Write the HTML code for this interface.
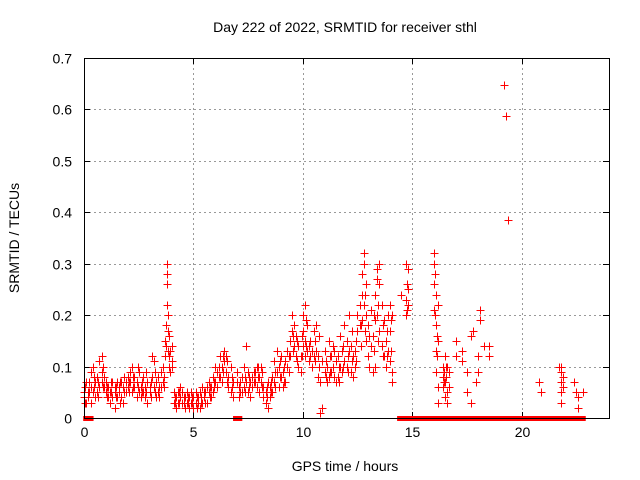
<!DOCTYPE html>
<html><head><meta charset="utf-8"><style>
body{margin:0;background:#fff;}
svg{display:block;font-family:"Liberation Sans",sans-serif;}
</style></head><body>
<svg id="chart" width="640" height="480">
<rect width="640" height="480" fill="#fff"/>
<text x="345" y="32" text-anchor="middle" font-size="14" fill="#000">Day 222 of 2022, SRMTID for receiver sthl</text>
<text x="345" y="471" text-anchor="middle" font-size="14" fill="#000">GPS time / hours</text>
<text transform="translate(19,238) rotate(-90)" text-anchor="middle" font-size="14" fill="#000">SRMTID / TECUs</text>
<g id="grid"></g><g id="ticks"></g><g id="marks"></g>
<rect x="84.5" y="58.5" width="525" height="360" fill="none" stroke="#000" stroke-width="1"/>
</svg>
<script>
const xTicks=[0,5,10,15,20];
const yTicks=[0,0.1,0.2,0.3,0.4,0.5,0.6,0.7];
const yTickLabels=["0","0.1","0.2","0.3","0.4","0.5","0.6","0.7"];
const groups=[
[0.0,[0.04,0.05]],[0.1,[0.03,0.07]],[0.2,[0.05,0.04]],[0.3,[0.06,0.09,0.03]],[0.4,[0.05,0.1]],[0.5,[0.04,0.07]],[0.6,[0.05,0.08]],[0.7,[0.06,0.11]],[0.8,[0.12,0.09,0.07]],[0.9,[0.08,0.06]],[1.0,[0.05,0.07]],
[1.1,[0.04,0.06]],[1.2,[0.03,0.05]],[1.3,[0.07,0.04]],[1.4,[0.05,0.06,0.02]],[1.5,[0.04,0.07]],[1.6,[0.06,0.05]],[1.7,[0.07,0.04]],[1.8,[0.06,0.03]],[1.9,[0.05,0.07]],[2.0,[0.08,0.06]],
[2.1,[0.09,0.07]],[2.2,[0.1,0.05]],[2.3,[0.06,0.08]],[2.4,[0.07,0.04]],[2.5,[0.05,0.09]],[2.6,[0.06,0.04]],[2.7,[0.08,0.05]],[2.8,[0.06,0.04]],[2.9,[0.07,0.03]],[3.0,[0.06,0.05]],
[3.1,[0.12,0.08]],[3.2,[0.11,0.06]],[3.3,[0.07,0.04]],[3.4,[0.08,0.05]],[3.5,[0.06,0.09]],[3.6,[0.1,0.07]],[3.7,[0.15,0.12]],[3.8,[0.22,0.26,0.3,0.28]],[3.85,[0.17,0.13,0.2]],[3.9,[0.16,0.12,0.1]],[4.0,[0.14,0.1,0.11]],
[4.1,[0.05,0.03]],[4.2,[0.04,0.02]],[4.3,[0.05,0.03]],[4.4,[0.04,0.06]],[4.5,[0.03,0.05]],[4.6,[0.04,0.02]],[4.7,[0.05,0.03]],[4.8,[0.04,0.02]],[4.9,[0.03,0.05]],[5.0,[0.02,0.04]],
[5.1,[0.03,0.05]],[5.2,[0.04,0.03]],[5.3,[0.05,0.02]],[5.4,[0.03,0.06]],[5.5,[0.05,0.04]],[5.6,[0.06,0.03]],[5.7,[0.07,0.05]],[5.8,[0.06,0.04]],[5.9,[0.08,0.05]],[6.0,[0.07,0.1]],
[6.1,[0.09,0.06]],[6.2,[0.12,0.08]],[6.3,[0.1,0.07]],[6.4,[0.13,0.11]],[6.5,[0.09,0.12]],[6.6,[0.08,0.06]],[6.7,[0.1,0.05]],[6.8,[0.07,0.04]],
[7.0,[0.07,0.09]],[7.1,[0.06,0.04]],[7.2,[0.08,0.05]],[7.3,[0.1,0.06]],[7.4,[0.14,0.07]],[7.5,[0.09,0.05]],[7.6,[0.07,0.04]],[7.7,[0.08,0.06]],[7.8,[0.09,0.07]],[7.9,[0.1,0.06]],[8.0,[0.08,0.05]],
[8.1,[0.1,0.07]],[8.2,[0.06,0.04]],[8.3,[0.05,0.03]],[8.4,[0.07,0.02]],[8.5,[0.06,0.04]],[8.6,[0.08,0.05]],[8.7,[0.11,0.07]],[8.8,[0.13,0.09]],[8.9,[0.1,0.06]],[9.0,[0.12,0.08]],
[9.1,[0.09,0.06]],[9.2,[0.11,0.07]],[9.3,[0.1,0.13]],[9.4,[0.15,0.12]],[9.5,[0.2,0.17]],[9.6,[0.18,0.14]],[9.7,[0.16,0.12]],[9.8,[0.14,0.1]],[9.9,[0.12,0.09]],[10.0,[0.2,0.17,0.14]],
[10.1,[0.22,0.15,0.12]],[10.2,[0.18,0.13]],[10.3,[0.14,0.11]],[10.4,[0.13,0.1]],[10.5,[0.17,0.12]],[10.6,[0.18,0.13]],[10.7,[0.12,0.08]],[10.8,[0.07,0.01]],[10.9,[0.11,0.02]],[11.0,[0.13,0.09]],
[11.1,[0.1,0.07]],[11.2,[0.15,0.08]],[11.3,[0.12,0.09]],[11.4,[0.14,0.1]],[11.5,[0.11,0.07]],[11.6,[0.12,0.08]],[11.7,[0.16,0.1]],[11.8,[0.13,0.09]],[11.9,[0.18,0.11]],[12.0,[0.15,0.1]],
[12.1,[0.2,0.13]],[12.2,[0.14,0.09]],[12.3,[0.12,0.08]],[12.4,[0.13,0.1]],[12.5,[0.2,0.17]],[12.6,[0.22,0.18]],[12.7,[0.28,0.24,0.19]],[12.8,[0.32,0.3,0.22]],[12.9,[0.26,0.2,0.15]],[13.0,[0.18,0.12]],
[13.1,[0.21,0.14]],[13.2,[0.16,0.09]],[13.3,[0.24,0.19,0.1]],[13.4,[0.29,0.27,0.2]],[13.5,[0.3,0.26,0.17]],[13.6,[0.22,0.14]],[13.7,[0.19,0.12]],[13.8,[0.15,0.1]],[13.9,[0.2,0.13]],[14.0,[0.22,0.17,0.11]],
[14.1,[0.2,0.09,0.07]],[14.5,[0.24]],[14.7,[0.3,0.23,0.2]],[14.8,[0.29,0.25,0.22]],[16.0,[0.32,0.3,0.26,0.21]],[16.1,[0.24,0.18,0.13,0.09]],[16.2,[0.22,0.15,0.06,0.03]],
[16.4,[0.1,0.08,0.06]],[16.5,[0.12,0.07,0.04]],[16.6,[0.1,0.05,0.03]],[16.7,[0.09,0.06]],[17.0,[0.15,0.12]],[17.3,[0.13,0.11]],[17.5,[0.09,0.05]],[17.7,[0.16,0.03]],[17.8,[0.17]],[17.9,[0.07]],
[18.0,[0.12,0.09]],[18.1,[0.21,0.19]],[18.3,[0.14]],[18.5,[0.14,0.12]],[19.2,[0.648]],[19.3,[0.588]],[19.4,[0.385]],[20.8,[0.07]],[20.9,[0.05]],
[21.7,[0.1]],[21.8,[0.1,0.09,0.07,0.05,0.03]],[21.9,[0.06,0.08]],[22.4,[0.07]],[22.5,[0.05]],[22.6,[0.04,0.02]],[22.8,[0.05]]
];
const groups2=[
[0.05,[0.06,0.03]],[0.25,[0.07,0.05]],[0.45,[0.06,0.08]],[0.65,[0.07,0.04]],[0.85,[0.1,0.06]],[1.05,[0.06,0.04]],[1.25,[0.05,0.07]],[1.45,[0.04,0.06]],[1.65,[0.07,0.03]],[1.85,[0.05,0.08]],
[2.05,[0.07,0.05]],[2.25,[0.08,0.06]],[2.45,[0.1,0.06]],[2.65,[0.07,0.05]],[2.85,[0.09,0.05]],[3.05,[0.07,0.04]],[3.25,[0.09,0.05]],[3.45,[0.06,0.04]],[3.65,[0.08,0.06]],[3.75,[0.18,0.14]],[3.95,[0.13,0.09]],
[4.15,[0.04,0.03]],[4.35,[0.03,0.05]],[4.55,[0.04,0.03]],[4.75,[0.03,0.04]],[4.95,[0.04,0.03]],[5.15,[0.04,0.02]],[5.35,[0.04,0.03]],[5.55,[0.05,0.03]],[5.75,[0.04,0.06]],[5.95,[0.06,0.07]],
[6.15,[0.08,0.1]],[6.35,[0.12,0.09]],[6.55,[0.11,0.07]],[6.75,[0.08,0.06]],[7.15,[0.07,0.05]],[7.35,[0.08,0.05]],[7.55,[0.08,0.06]],[7.75,[0.07,0.09]],[7.95,[0.08,0.1]],[8.15,[0.09,0.06]],
[8.35,[0.06,0.04]],[8.55,[0.05,0.07]],[8.75,[0.09,0.06]],[8.95,[0.11,0.08]],[9.15,[0.1,0.07]],[9.35,[0.12,0.09]],[9.55,[0.16,0.13]],[9.75,[0.15,0.11]],[9.95,[0.16,0.12]],[10.15,[0.19,0.14]],
[10.35,[0.15,0.12]],[10.55,[0.15,0.11]],[10.75,[0.16,0.1]],[11.05,[0.11,0.08]],[11.25,[0.12,0.09]],[11.45,[0.13,0.08]],[11.65,[0.1,0.07]],[11.85,[0.14,0.1]],[12.05,[0.12,0.09]],[12.25,[0.17,0.11]],
[12.45,[0.15,0.11]],[12.65,[0.18,0.14]],[12.85,[0.24,0.17]],[13.05,[0.16,0.1]],[13.25,[0.2,0.13]],[13.45,[0.22,0.15]],[13.65,[0.18,0.12]],[13.85,[0.17,0.12]],[14.05,[0.19,0.13]],[14.75,[0.26,0.21]],
[16.05,[0.28,0.2]],[16.15,[0.16,0.12]],[16.45,[0.09,0.07]],[16.55,[0.1,0.08]]
];
const zeroRuns=[[0.1,0.3],[6.95,7.1],[14.45,15.0],[15.1,16.1],[16.2,16.8],[16.9,21.8],[21.9,22.8]];
const X=t=>84+t*525/24, Y=v=>418-v*360/0.7;
const ns="http://www.w3.org/2000/svg";
const grid=document.getElementById('grid'),ticks=document.getElementById('ticks'),marks=document.getElementById('marks');
function mk(tag,attrs,parent){const e=document.createElementNS(ns,tag);for(const k in attrs)e.setAttribute(k,attrs[k]);parent.appendChild(e);return e;}
xTicks.forEach(t=>{const x=Math.round(X(t))+0.5;
 if(t>0){const g=mk('line',{x1:x,x2:x,y1:58,y2:418,stroke:'#999','stroke-dasharray':'2,3'},grid);
 
 }
 mk('line',{x1:x,x2:x,y1:418,y2:412,stroke:'#000'},ticks);mk('line',{x1:x,x2:x,y1:58,y2:64,stroke:'#000'},ticks);
 const l=mk('text',{x:x,y:437,'text-anchor':'middle','font-size':14},ticks);l.textContent=t;
 
 });
yTicks.forEach((v,i)=>{const y=Math.round(Y(v))+0.5;
 if(v>0&&v<0.7){const g=mk('line',{x1:84,x2:609,y1:y,y2:y,stroke:'#999','stroke-dasharray':'2,3'},grid);
 
 }
 mk('line',{x1:84,x2:90,y1:y,y2:y,stroke:'#000'},ticks);mk('line',{x1:609,x2:603,y1:y,y2:y,stroke:'#000'},ticks);
 const l=mk('text',{x:72,y:y+5,'text-anchor':'end','font-size':14},ticks);l.textContent=yTickLabels[i];
 
 });
let d='';
groups.concat(groups2).forEach(([t,vals])=>vals.forEach(v=>{const x=Math.round(X(t))+0.5,y=Math.round(Y(v))+0.5;d+=`M${x-4} ${y}h8M${x} ${y-4}v8`;}));
const p=mk('path',{d:d,stroke:'#f00','stroke-width':1,fill:'none','shape-rendering':'crispEdges'},marks);


zeroRuns.forEach(([a,b])=>{const r=mk('rect',{x:X(a)-3,y:416,width:X(b)-X(a)+6,height:5,fill:'#f00'},marks);
 
 });
</script>
</body></html>
